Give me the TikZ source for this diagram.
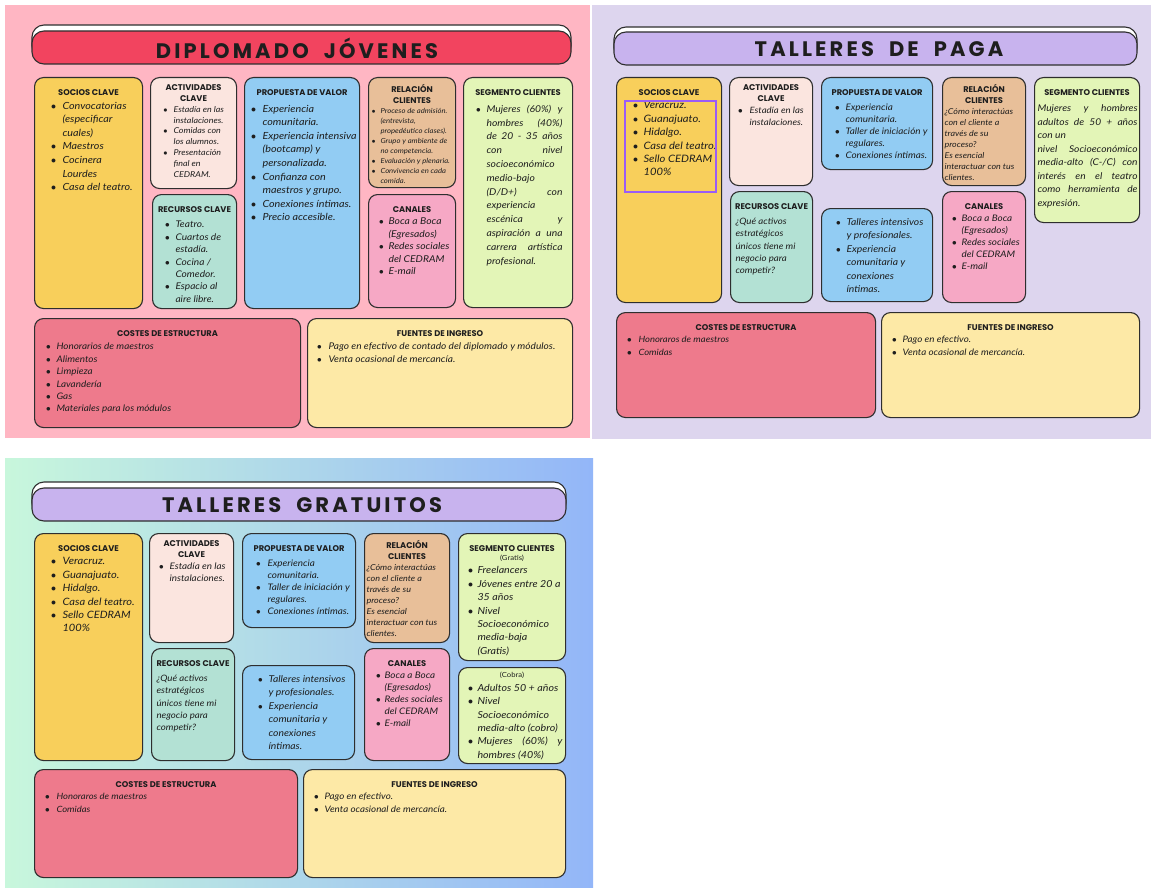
\documentclass[tikz,border=0pt]{standalone}
\usepackage{fontspec}
\setmainfont{Lato}[FakeStretch=1.1]
\newfontfamily\headfont{Poppins}
\newfontfamily\titlefont{Poppins}[LetterSpace=15]
\usetikzlibrary{positioning}

\definecolor{pinkbg}{HTML}{FFB6C3}
\definecolor{lilacbg}{HTML}{DDD5EE}
\definecolor{mintbg}{HTML}{C8F7DC}
\definecolor{periwbg}{HTML}{93B6F8}
\definecolor{redbar}{HTML}{F2445F}
\definecolor{lilacbar}{HTML}{C8B3EE}
\definecolor{yelc}{HTML}{F8CF5B}
\definecolor{peachc}{HTML}{FBE5DF}
\definecolor{mintc}{HTML}{B3E1D4}
\definecolor{bluec}{HTML}{92CCF3}
\definecolor{tanc}{HTML}{E8BF99}
\definecolor{rosec}{HTML}{F6A8C5}
\definecolor{limec}{HTML}{E3F5B7}
\definecolor{costc}{HTML}{EE7A8C}
\definecolor{fuec}{HTML}{FDE9A6}
\definecolor{pickc}{HTML}{9B5CF6}
\definecolor{linec}{HTML}{2E2E2E}
\definecolor{textc}{HTML}{1E1E1E}

\newlength\bulin
\newlength\txtin
\newcommand{\ind}[2]{\setlength\bulin{#1pt}\setlength\txtin{#2pt}}
\newcommand{\cbox}[3]{\parbox[t][\dimexpr#2pt-10pt\relax][t]{\dimexpr#1pt-10pt\relax}{\raggedright#3}}
\newcommand{\hd}[2][0pt]{{\centering\headfont\bfseries\upshape\fontsize{8.3}{10}\selectfont\vspace*{7pt}\makebox[\linewidth]{#2}\par}\vspace{#1}}
\newcommand{\hdd}[2][0pt]{{\centering\headfont\bfseries\upshape\fontsize{8.3}{11}\selectfont\vspace*{2pt}#2\par}\vspace{#1}}
\newcommand{\bitem}{\par\noindent\hangindent=\txtin\hangafter=1\hbox to\txtin{\hskip\bulin\makebox[0pt]{$\bullet$}\hss}}
\newcommand{\just}{\rightskip=0pt\relax}
\newcommand{\gap}{\hspace{15pt}}

\begin{document}
\begin{tikzpicture}[x=1pt,y=-1pt,
	card/.style={draw=linec,line width=1.1pt,rounded corners=9pt,anchor=north west,inner sep=5pt,text=textc},
	bar/.style={draw=linec,line width=1.1pt,rounded corners=12pt},
	banner/.style={font=\titlefont\bfseries\fontsize{21}{21}\selectfont,text=textc,inner sep=0pt}]
	\useasboundingbox (0,0) rectangle (1151,888);
	\fill[white] (0,0) rectangle (1151,888);
	\fill[pinkbg] (5,5) rectangle (590,438);
	\fill[lilacbg] (592,5) rectangle (1151,439);
	\shade[left color=mintbg,right color=periwbg] (5,458) rectangle (593,888);

	\draw[bar,fill=white] (32,25) rectangle (571,58);
	\draw[bar,fill=redbar] (32,31) rectangle (571,64);
	\node[banner] (titA) at (297,48) {DIPLOMADO\gap JÓVENES};
	\draw[bar,fill=white] (614,27) rectangle (1137,60);
	\draw[bar,fill=lilacbar] (614,32) rectangle (1137,65);
	\node[banner] (titB) at (879,49) {TALLERES\gap DE\gap PAGA};
	\draw[bar,fill=white] (32,482) rectangle (566,515);
	\draw[bar,fill=lilacbar] (32,488) rectangle (566,521);
	\node[banner] (titC) at (302,505) {TALLERES\gap GRATUITOS};

	\begin{scope}[every node/.style={card}]
		\node[fill=yelc,font=\itshape\fontsize{9.8}{13.6}\selectfont] (socA) at (34,77) {\cbox{108}{231}{\hd{SOCIOS CLAVE}\ind{14}{23}
			\bitem Convocatorias\newline (especificar\newline cuales)
			\bitem Maestros
			\bitem Cocinera\newline Lourdes
			\bitem Casa del teatro.}};
		\node[fill=peachc,font=\itshape\fontsize{8.1}{10.8}\selectfont] (actA) at (150,77) {\cbox{86}{111}{\hdd{ACTIVIDADES\\CLAVE}\ind{10}{18}
			\bitem Estadía en las\newline instalaciones.
			\bitem Comidas con\newline los alumnos.
			\bitem Presentación\newline final en\newline CEDRAM.}};
		\node[fill=mintc,font=\itshape\fontsize{9.2}{12.4}\selectfont] (recA) at (152,194) {\cbox{84}{114}{\hd[3pt]{RECURSOS CLAVE}\ind{10}{18}
			\bitem Teatro.
			\bitem Cuartos de\newline estadía.
			\bitem Cocina /\newline Comedor.
			\bitem Espacio al\newline aire libre.}};
		\node[fill=bluec,inner xsep=3pt,font=\itshape\fontsize{9.8}{13.6}\selectfont] (proA) at (244,77) {\cbox{119}{231}{\hd[3pt]{PROPUESTA DE VALOR}\ind{6}{15}
			\bitem Experiencia\newline comunitaria.
			\bitem Experiencia intensiva\newline (bootcamp) y\newline personalizada.
			\bitem Confianza con\newline maestros y grupo.
			\bitem Conexiones íntimas.
			\bitem Precio accesible.}};
		\node[fill=tanc,inner xsep=2pt,font=\itshape\fontsize{7}{10}\selectfont] (relA) at (368,77) {\cbox{93}{110}{\hdd{RELACIÓN\\CLIENTES}\ind{3}{10}
			\bitem Proceso de admisión.\newline (entrevista,\newline propedéutico clases).
			\bitem Grupo y ambiente de\newline no competencia.
			\bitem Evaluación y plenaria.
			\bitem Convivencia en cada\newline comida.}};
		\node[fill=rosec,font=\itshape\fontsize{9.4}{12.4}\selectfont] (canA) at (368,194) {\cbox{87}{113}{\hd{CANALES}\ind{8}{15}
			\bitem Boca a Boca\newline (Egresados)
			\bitem Redes sociales\newline del CEDRAM
			\bitem E-mail}};
		\node[fill=limec,font=\itshape\fontsize{9.4}{13.8}\selectfont] (segA) at (463,77) {\cbox{109}{230}{\hd[3pt]{SEGMENTO CLIENTES}\ind{10}{18}
			\bitem\rightskip=5pt\relax Mujeres (60\%) y\linebreak hombres (40\%)\linebreak de 20 - 35 años\linebreak con nivel\linebreak socioeconómico\linebreak medio-bajo\linebreak (D/D+) con\linebreak experiencia\linebreak escénica y\linebreak aspiración a una\linebreak carrera artística\linebreak profesional.}};
		\node[fill=costc,font=\itshape\fontsize{9}{12.4}\selectfont] (cosA) at (34,318) {\cbox{266}{109}{\hd[1pt]{COSTES DE ESTRUCTURA}\ind{9}{17}
			\bitem Honorarios de maestros
			\bitem Alimentos
			\bitem Limpieza
			\bitem Lavandería
			\bitem Gas
			\bitem Materiales para los módulos}};
		\node[fill=fuec,font=\itshape\fontsize{9.2}{12.4}\selectfont] (fueA) at (307,318) {\cbox{265}{109}{\hd[1pt]{FUENTES DE INGRESO}\ind{7}{16}
			\bitem Pago en efectivo de contado del diplomado y módulos.
			\bitem Venta ocasional de mercancía.}};
	\end{scope}

	\begin{scope}[every node/.style={card}]
		\node[fill=yelc,font=\itshape\fontsize{10.2}{13.4}\selectfont] (socB) at (616,77) {\cbox{105}{225}{\hd{SOCIOS CLAVE}\ind{14}{22}
			\bitem Veracruz.
			\bitem Guanajuato.
			\bitem Hidalgo.
			\bitem Casa del teatro.
			\bitem Sello CEDRAM\newline 100\%}};
		\node[fill=peachc,font=\itshape\fontsize{8.7}{12}\selectfont] (actB) at (729,77) {\cbox{83}{108}{\hdd{ACTIVIDADES\\CLAVE}\ind{6}{15}
			\bitem Estadía en las\newline instalaciones.}};
		\node[fill=mintc,font=\itshape\fontsize{8.8}{12.2}\selectfont] (recB) at (730,191) {\cbox{82}{111}{\hd[3pt]{RECURSOS CLAVE}
			¿Qué activos\newline estratégicos\newline únicos tiene mi\newline negocio para\newline competir?}};
		\node[fill=bluec,font=\itshape\fontsize{9}{12}\selectfont] (proB1) at (821,77) {\cbox{111}{92}{\hd[3pt]{PROPUESTA DE VALOR}\ind{11}{19}
			\bitem Experiencia\newline comunitaria.
			\bitem Taller de iniciación y\newline regulares.
			\bitem Conexiones íntimas.}};
		\node[fill=bluec,font=\itshape\fontsize{9.4}{13.4}\selectfont] (proB2) at (821,208) {\cbox{111}{93}{\vspace*{5pt}\ind{12}{20}
			\bitem Talleres intensivos\newline y profesionales.
			\bitem Experiencia\newline comunitaria y\newline conexiones\newline íntimas.}};
		\node[fill=tanc,inner xsep=2pt,font=\itshape\fontsize{8.1}{11}\selectfont] (relB) at (942,77) {\cbox{89}{108}{\hdd{RELACIÓN\\CLIENTES}
			¿Cómo interactúas\newline con el cliente a\newline través de su\newline proceso?\newline Es esencial\newline interactuar con tus\newline clientes.}};
		\node[fill=rosec,font=\itshape\fontsize{9}{12}\selectfont] (canB) at (942,191) {\cbox{83}{111}{\hd{CANALES}\ind{7}{14}
			\bitem Boca a Boca\newline (Egresados)
			\bitem Redes sociales\newline del CEDRAM
			\bitem E-mail}};
		\node[fill=limec,inner xsep=2pt,font=\itshape\fontsize{9.3}{13.5}\selectfont] (segB) at (1034,77) {\cbox{111}{145}{\hd[3pt]{SEGMENTO CLIENTES}
			{\leftskip=1pt\rightskip=0pt\parfillskip=0pt plus 1fil Mujeres y hombres\linebreak adultos de 50 + años\linebreak con un\par
			nivel Socioeconómico\linebreak media-alto (C-/C) con\linebreak interés en el teatro\linebreak como herramienta de\linebreak expresión.\par}}};
		\node[fill=costc,font=\itshape\fontsize{8.6}{12.4}\selectfont] (cosB) at (616,312) {\cbox{259}{105}{\hd{COSTES DE ESTRUCTURA}\ind{8}{17}
			\bitem Honoraros de maestros
			\bitem Comidas}};
		\node[fill=fuec,font=\itshape\fontsize{8.9}{12.4}\selectfont] (fueB) at (881,312) {\cbox{258}{105}{\hd{FUENTES DE INGRESO}\ind{8}{16}
			\bitem Pago en efectivo.
			\bitem Venta ocasional de mercancía.}};
	\end{scope}
	\draw[pickc,line width=2pt] (625,101) rectangle (716,192);

	\begin{scope}[every node/.style={card}]
		\node[fill=yelc,font=\itshape\fontsize{10.1}{13.4}\selectfont] (socC) at (34,533) {\cbox{108}{227}{\hd{SOCIOS CLAVE}\ind{14}{23}
			\bitem Veracruz.
			\bitem Guanajuato.
			\bitem Hidalgo.
			\bitem Casa del teatro.
			\bitem Sello CEDRAM\newline 100\%}};
		\node[fill=peachc,font=\itshape\fontsize{9}{12}\selectfont] (actC) at (149,533) {\cbox{84}{109}{\hdd{ACTIVIDADES\\CLAVE}\ind{7}{15}
			\bitem Estadía en las\newline instalaciones.}};
		\node[fill=mintc,font=\itshape\fontsize{8.8}{12.2}\selectfont] (recC) at (151,648) {\cbox{83}{112}{\hd[3pt]{RECURSOS CLAVE}
			¿Qué activos\newline estratégicos\newline únicos tiene mi\newline negocio para\newline competir?}};
		\node[fill=bluec,font=\itshape\fontsize{9}{12}\selectfont] (proC1) at (242,533) {\cbox{113}{94}{\hd[3pt]{PROPUESTA DE VALOR}\ind{11}{20}
			\bitem Experiencia\newline comunitaria.
			\bitem Taller de iniciación y\newline regulares.
			\bitem Conexiones íntimas.}};
		\node[fill=bluec,font=\itshape\fontsize{9.4}{13.4}\selectfont] (proC2) at (242,665) {\cbox{112}{94}{\vspace*{5pt}\ind{13}{21}
			\bitem Talleres intensivos\newline y profesionales.
			\bitem Experiencia\newline comunitaria y\newline conexiones\newline íntimas.}};
		\node[fill=tanc,inner xsep=2pt,font=\itshape\fontsize{8.2}{11}\selectfont] (relC) at (364,533) {\cbox{91}{109}{\hdd{RELACIÓN\\CLIENTES}
			¿Cómo interactúas\newline con el cliente a\newline través de su\newline proceso?\newline Es esencial\newline interactuar con tus\newline clientes.}};
		\node[fill=rosec,font=\itshape\fontsize{9}{12}\selectfont] (canC) at (364,648) {\cbox{85}{112}{\hd{CANALES}\ind{9}{15}
			\bitem Boca a Boca\newline (Egresados)
			\bitem Redes sociales\newline del CEDRAM
			\bitem E-mail}};
		\node[fill=limec,inner xsep=3pt,font=\itshape\fontsize{9.7}{13.4}\selectfont] (segC1) at (458,533) {\cbox{111}{127}{\hd{SEGMENTO CLIENTES}
			{\centering\upshape\fontsize{7}{9}\selectfont (Gratis)\par}\ind{9}{16}
			\bitem Freelancers
			\bitem Jóvenes entre 20 a\newline 35 años
			\bitem Nivel\newline Socioeconómico\newline media-baja\newline (Gratis)}};
		\node[fill=limec,inner xsep=3pt,font=\itshape\fontsize{9.7}{13.4}\selectfont] (segC2) at (458,667) {\cbox{111}{96}{{\centering\upshape\fontsize{7}{8}\selectfont (Cobra)\par}\ind{9}{16}
			\bitem Adultos 50 + años
			\bitem Nivel\newline Socioeconómico\newline media-alto (cobro)
			\bitem\just Mujeres (60\%) y\linebreak hombres (40\%)}};
		\node[fill=costc,font=\itshape\fontsize{8.6}{12.4}\selectfont] (cosC) at (34,769) {\cbox{263}{108}{\hd{COSTES DE ESTRUCTURA}\ind{8}{17}
			\bitem Honoraros de maestros
			\bitem Comidas}};
		\node[fill=fuec,font=\itshape\fontsize{8.9}{12.4}\selectfont] (fueC) at (303,769) {\cbox{262}{108}{\hd{FUENTES DE INGRESO}\ind{8}{16}
			\bitem Pago en efectivo.
			\bitem Venta ocasional de mercancía.}};
	\end{scope}
\end{tikzpicture}
\end{document}
